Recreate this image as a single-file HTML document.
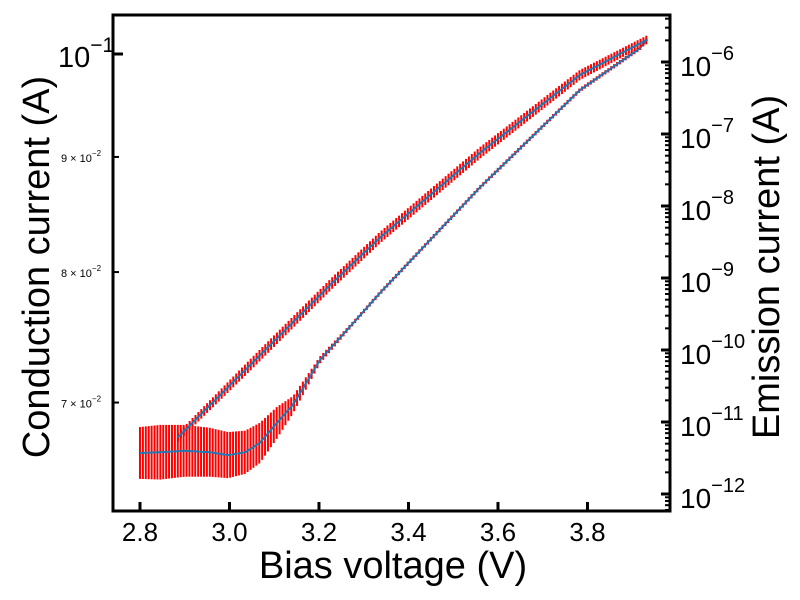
<!DOCTYPE html>
<html><head><meta charset="utf-8"><style>
html,body{margin:0;padding:0;background:#fff;}
svg{display:block;font-family:"Liberation Sans",Arial,sans-serif;}
</style></head><body>
<svg id="chart" width="800" height="600" viewBox="0 0 800 600">
<g id="marks"></g>
<g id="axes"></g>
</svg>
<script>
// Upper (return) branch: voltage and log10(emission current)
const upperV = [2.885, 3.046, 3.231, 3.336, 3.560, 3.783, 3.933];
const upperLogI = [-11.21, -10.21, -9.06, -8.44, -7.26, -6.18, -5.69];
const upperErr = [0.06, 0.08, 0.08, 0.08, 0.08, 0.07, 0.06];
// Lower (forward) branch
const lowerV = [2.8, 2.845, 2.9, 2.956, 2.997, 3.035, 3.068, 3.106, 3.142, 3.202, 3.276, 3.336, 3.560, 3.783, 3.917, 3.933];
const lowerLogI = [-11.43, -11.42, -11.40, -11.42, -11.46, -11.42, -11.29, -11.01, -10.76, -10.14, -9.63, -9.21, -7.74, -6.39, -5.81, -5.69];
const lowerErr = [0.36, 0.38, 0.36, 0.34, 0.32, 0.30, 0.28, 0.22, 0.12, 0.05, 0.03, 0.03, 0.03, 0.03, 0.03, 0.03];
const xTicks = [2.8, 3.0, 3.2, 3.4, 3.6, 3.8];
const xTickLabels = ["2.8", "3.0", "3.2", "3.4", "3.6", "3.8"];
const rightDecades = [-6, -7, -8, -9, -10, -11, -12];
const leftMinor = [0.09, 0.08, 0.07];
const leftMinorLabels = ["9", "8", "7"];

const L = 113, R = 670, T = 15, B = 511;
const xMin = 2.7397, xMax = 3.9844;
const rMin = -12.236, rMax = -5.347;
const lMin = -1.2031, lMax = -0.98267;
const X = v => L + (v - xMin) / (xMax - xMin) * (R - L);
const YR = l => B - (l - rMin) / (rMax - rMin) * (B - T);
const YL = v => B - (Math.log10(v) - lMin) / (lMax - lMin) * (B - T);

const NS = "http://www.w3.org/2000/svg";
function mk(tag, attrs, parent) {
  const e = document.createElementNS(NS, tag);
  for (const k in attrs) e.setAttribute(k, attrs[k]);
  parent.appendChild(e);
  return e;
}
const marks = document.getElementById('marks');
const axes = document.getElementById('axes');

function interp(xs, ys, v) {
  for (let i = 0; i < xs.length - 1; i++) {
    if (v >= xs[i] && v <= xs[i + 1]) {
      const t = (v - xs[i]) / (xs[i + 1] - xs[i]);
      return ys[i] + t * (ys[i + 1] - ys[i]);
    }
  }
  return ys[ys.length - 1];
}
function drawBranch(vs, ls, es, name) {
  const g = mk('g', {}, marks);
  
  
  for (let v = vs[0]; v <= vs[vs.length - 1] + 1e-9; v += 0.0065) {
    const l = interp(vs, ls, v), e = interp(vs, es, v);
    const bar = mk('line', {x1: X(v), x2: X(v), y1: YR(l - e), y2: YR(l + e), stroke: '#ff0000', 'stroke-width': 2}, g);
    
    
  }
  let d = '';
  for (let v = vs[0]; v <= vs[vs.length - 1] + 1e-9; v += 0.004) {
    d += (d ? 'L' : 'M') + X(v).toFixed(2) + ',' + YR(interp(vs, ls, v)).toFixed(2);
  }
  d += 'L' + X(vs[vs.length - 1]) + ',' + YR(ls[ls.length - 1]);
  const p = mk('path', {d: d, fill: 'none', stroke: '#1f77b4', 'stroke-width': 2}, marks);
  
  
}
drawBranch(lowerV, lowerLogI, lowerErr, 'forward-sweep');
drawBranch(upperV, upperLogI, upperErr, 'reverse-sweep');

// frame
const frame = mk('rect', {x: L, y: T, width: R - L, height: B - T, fill: 'none', stroke: '#000', 'stroke-width': 3}, axes);



// x ticks
xTicks.forEach((v, i) => {
  const t = mk('line', {x1: X(v), x2: X(v), y1: B, y2: B - 9, stroke: '#000', 'stroke-width': 3}, axes);
  
  
  const tx = mk('text', {x: X(v), y: B + 30, 'text-anchor': 'middle', 'font-size': 26}, axes);
  tx.textContent = xTickLabels[i];
  
  
});

// left axis
{
  const t = mk('line', {x1: L, x2: L + 10, y1: YL(0.1), y2: YL(0.1), stroke: '#000', 'stroke-width': 3}, axes);
  
  
  const tx = mk('text', {x: 58, y: YL(0.1) + 13, 'font-size': 29}, axes);
  tx.innerHTML = '10<tspan dy="-15" font-size="21">−1</tspan>';
  
  
}
leftMinor.forEach((v, i) => {
  const t = mk('line', {x1: L, x2: L + 6, y1: YL(v), y2: YL(v), stroke: '#000', 'stroke-width': 2}, axes);
  
  
  const tx = mk('text', {x: 61, y: YL(v) + 5, 'font-size': 11}, axes);
  tx.innerHTML = leftMinorLabels[i] + ' × 10<tspan dy="-6" font-size="8">−2</tspan>';
  
  
});

// right axis
rightDecades.forEach(d => {
  const y = YR(d);
  const t = mk('line', {x1: R, x2: R - 9, y1: y, y2: y, stroke: '#000', 'stroke-width': 3}, axes);
  
  
  for (let m = 2; m <= 9; m++) {
    const ym = YR(d + Math.log10(m));
    if (ym < T + 1) continue;
    const mt = mk('line', {x1: R, x2: R - 5, y1: ym, y2: ym, stroke: '#000', 'stroke-width': 2}, axes);
    
    
  }
  const tx = mk('text', {x: 680, y: y + 14, 'font-size': 28}, axes);
  tx.innerHTML = '10<tspan dy="-16" font-size="20">−' + (-d) + '</tspan>';
  
  
});
for (let m = 5; m <= 9; m++) {
  const ym = YR(-13 + Math.log10(m));
  if (ym > B - 1) continue;
  const mt = mk('line', {x1: R, x2: R - 5, y1: ym, y2: ym, stroke: '#000', 'stroke-width': 2}, axes);
  
  
}

// titles
const xt = mk('text', {x: 393, y: 578, 'text-anchor': 'middle', 'font-size': 38}, axes);
xt.textContent = 'Bias voltage (V)';


const yl = mk('text', {x: 0, y: 0, 'text-anchor': 'middle', 'font-size': 38, transform: 'translate(49,267) rotate(-90)'}, axes);
yl.textContent = 'Conduction current (A)';


const yr = mk('text', {x: 0, y: 0, 'text-anchor': 'middle', 'font-size': 38, transform: 'translate(779,267) rotate(-90)'}, axes);
yr.textContent = 'Emission current (A)';


</script>
</body></html>
